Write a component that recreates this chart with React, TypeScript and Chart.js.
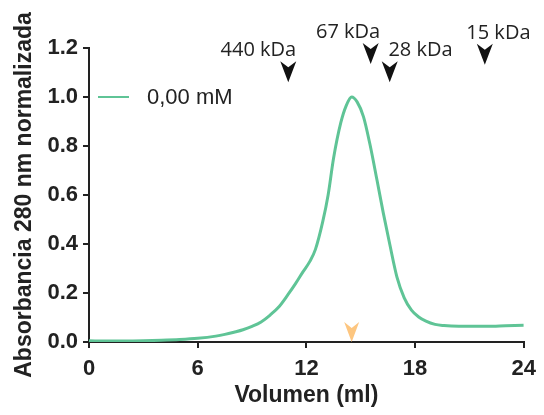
import React, { useEffect, useRef } from "react";
import { Chart, registerables } from "chart.js";

Chart.register(...registerables);

// Elution profile (volume in ml, normalised absorbance at 280 nm)
const volume = [0, 1, 2, 3, 4, 5, 6, 7, 7.5, 8, 8.5, 9, 9.5, 10, 10.5, 11.0, 11.4, 11.8, 12.2, 12.5, 12.9, 13.2, 13.5, 13.9, 14.2, 14.5, 14.8, 15.15, 15.5, 15.9, 16.25, 16.6, 17.0, 17.4, 17.8, 18.2, 18.6, 19.1, 19.6, 20, 21, 22, 23, 24];
const absorbance = [0.005, 0.004, 0.004, 0.005, 0.007, 0.01, 0.015, 0.024, 0.031, 0.04, 0.05, 0.064, 0.082, 0.11, 0.145, 0.195, 0.238, 0.285, 0.33, 0.378, 0.49, 0.6, 0.75, 0.895, 0.965, 1.0, 0.98, 0.92, 0.81, 0.66, 0.525, 0.4, 0.265, 0.18, 0.13, 0.102, 0.085, 0.072, 0.067, 0.065, 0.064, 0.064, 0.066, 0.068];
const seriesLabel = "0,00 mM";

const xTickValues = [0, 6, 12, 18, 24];
const yTickValues = [0, 0.2, 0.4, 0.6, 0.8, 1.0, 1.2];

// Calibration standards
const markerLabels = ["440 kDa", "67 kDa", "28 kDa", "15 kDa"];
const markerVolumes = [11.0, 15.55, 16.6, 21.85];
const markerTips = [1.06, 1.135, 1.06, 1.132];
const markerLabelCenters = [9.35, 14.3, 18.3, 22.6];

// Peak marker
const peakVolume = 14.5;

const LINE_COLOR = "rgb(95,196,150)";
const AXIS_COLOR = "#222";
const FONT = "'Liberation Sans', Arial, sans-serif";

const annotations = {
  id: "annotations",
  afterDatasetsDraw(chart: any) {
    const { ctx, scales } = chart;
    const xs = scales.x;
    const ys = scales.y;
    ctx.save();
    // standard markers
    for (let i = 0; i < markerLabels.length; i++) {
      const x = xs.getPixelForValue(markerVolumes[i]);
      const tip = ys.getPixelForValue(markerTips[i]);
      const w = 8, h = 21, notch = 6;
      ctx.beginPath();
      ctx.moveTo(x - w, tip - h);
      ctx.lineTo(x, tip - h + notch);
      ctx.lineTo(x + w, tip - h);
      ctx.lineTo(x, tip);
      ctx.closePath();
      ctx.fillStyle = "#111";
      ctx.fill();
      ctx.font = "20px 'Open Sans', sans-serif";
      ctx.textAlign = "center";
      ctx.textBaseline = "alphabetic";
      ctx.fillStyle = "#222";
      ctx.fillText(markerLabels[i], xs.getPixelForValue(markerLabelCenters[i]), tip - h - 5);
    }
    // peak marker (orange)
    {
      const x = xs.getPixelForValue(peakVolume);
      const tip = ys.getPixelForValue(0);
      const w = 7.5, h = 20, notch = 6;
      ctx.beginPath();
      ctx.moveTo(x - w, tip - h);
      ctx.lineTo(x, tip - h + notch);
      ctx.lineTo(x + w, tip - h);
      ctx.lineTo(x, tip);
      ctx.closePath();
      ctx.fillStyle = "rgb(253,198,128)";
      ctx.fill();
    }
    // legend
    {
      const ly = ys.getPixelForValue(1.0);
      const lx = xs.left + 9;
      ctx.beginPath();
      ctx.moveTo(lx, ly);
      ctx.lineTo(lx + 31, ly);
      ctx.strokeStyle = chart.data.datasets[0].borderColor;
      ctx.lineWidth = 2;
      ctx.stroke();
      ctx.font = `22px ${FONT}`;
      ctx.textAlign = "left";
      ctx.textBaseline = "middle";
      ctx.fillStyle = "#222";
      ctx.fillText(chart.data.datasets[0].label, lx + 49, ly + 1);
    }
    ctx.restore();
  },
};

export default function App() {
  const ref = useRef<HTMLCanvasElement | null>(null);
  useEffect(() => {
    if (!ref.current) return;
    const chart = new Chart(ref.current, {
      type: "line",
      data: {
        datasets: [
          {
            label: seriesLabel,
            data: volume.map((v, i) => ({ x: v, y: absorbance[i] })),
            borderColor: LINE_COLOR,
            borderWidth: 3,
            pointRadius: 0,
            cubicInterpolationMode: "monotone",
            fill: false,
          },
        ],
      },
      options: {
        responsive: false,
        animation: false,
        layout: { padding: { top: 48, right: 18, left: 0, bottom: 0 } },
        plugins: { legend: { display: false }, tooltip: { enabled: false } },
        scales: {
          x: {
            type: "linear",
            min: 0,
            max: 24,
            afterBuildTicks: (s: any) => {
              s.ticks = xTickValues.map((v) => ({ value: v }));
            },
            afterFit: (s: any) => {
              s.height = 73;
            },
            border: { display: true, color: AXIS_COLOR, width: 2 },
            grid: { drawOnChartArea: false, drawTicks: true, tickLength: 6, color: AXIS_COLOR, lineWidth: 2 },
            ticks: {
              padding: 8,
              color: AXIS_COLOR,
              font: { family: FONT, size: 22, weight: "bold" },
              maxRotation: 0,
              callback: (v: any) => String(v),
            },
            title: {
              display: true,
              text: "Volumen (ml)",
              color: AXIS_COLOR,
              font: { family: FONT, size: 23, weight: "bold" },
              padding: { top: 0, bottom: 6 },
            },
          },
          y: {
            type: "linear",
            min: 0,
            max: 1.2,
            afterBuildTicks: (s: any) => {
              s.ticks = yTickValues.map((v) => ({ value: v }));
            },
            afterFit: (s: any) => {
              s.width = 89;
            },
            border: { display: true, color: AXIS_COLOR, width: 2 },
            grid: { drawOnChartArea: false, drawTicks: true, tickLength: 6, color: AXIS_COLOR, lineWidth: 2 },
            ticks: {
              padding: 5,
              color: AXIS_COLOR,
              font: { family: FONT, size: 22, weight: "bold" },
              callback: (v: any) => Number(v).toFixed(1),
            },
            title: {
              display: true,
              text: "Absorbancia 280 nm normalizada",
              color: AXIS_COLOR,
              font: { family: FONT, size: 23, weight: "bold" },
              padding: { top: 11, bottom: 0 },
            },
          },
        },
      },
      plugins: [annotations],
    });
    return () => chart.destroy();
  }, []);
  return (
    <div style={{ position: "fixed", left: 0, top: 0, width: 544, height: 415, background: "#fff" }}>
      <canvas ref={ref} width={544} height={415} style={{ display: "block", width: 544, height: 415 }} />
    </div>
  );
}
